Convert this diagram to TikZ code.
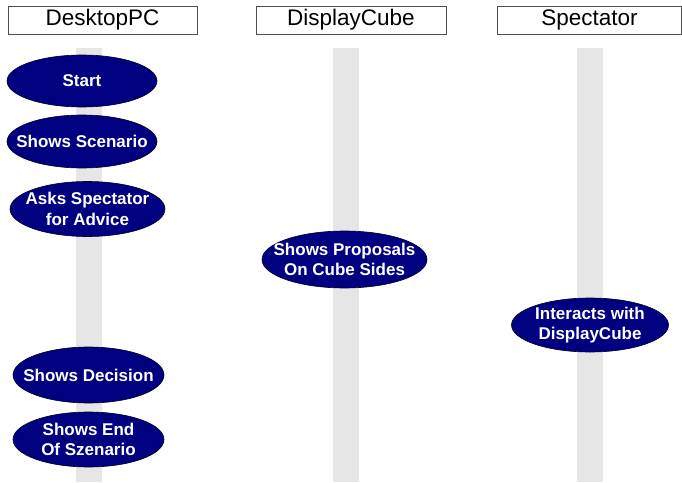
\documentclass[tikz,border=0pt]{standalone}
\usepackage{fontspec}
\setmainfont{Liberation Sans}
\usetikzlibrary{shapes.geometric}
\definecolor{lanegray}{HTML}{E6E6E6}
\definecolor{navyfill}{HTML}{000080}
\definecolor{boxline}{HTML}{505050}
\begin{document}
\begin{tikzpicture}[x=1pt,y=-1pt,
  header/.style={draw=boxline,line width=0.8pt,fill=white,inner sep=0pt,font=\fontsize{22.5}{26}\selectfont},
  lane/.style={fill=lanegray,draw=none},
  act/.style={ellipse,draw=black!70!navyfill,line width=0.6pt,fill=navyfill,inner sep=0pt},
  acttext/.style={text=white,inner sep=0pt,font=\bfseries\fontsize{17}{20.5}\selectfont,align=center}]
\useasboundingbox (0,0) rectangle (682,482);
\fill[white] (0,0) rectangle (682,482);
% lanes
\path[lane] (76,48) rectangle (102,482);
\path[lane] (333,48) rectangle (359,482);
\path[lane] (577,48) rectangle (603,482);
% headers
\node[header,minimum width=189pt,minimum height=28pt] (h1) at (102.5,20) {DesktopPC};
\node[header,minimum width=190pt,minimum height=28pt] (h2) at (351,20) {DisplayCube};
\node[header,minimum width=184pt,minimum height=28pt] (h3) at (589.5,20) {Spectator};
% activities
\node[act,minimum width=150pt,minimum height=52pt] (start) at (82,81) {};
\node[acttext] (startT) at (start) {Start};
\node[act,minimum width=150pt,minimum height=53pt] (scen) at (82,141.5) {};
\node[acttext] (scenT) at (scen) {Shows Scenario};
\node[act,minimum width=155pt,minimum height=55pt] (ask) at (87.5,209) {};
\node[acttext] (askT) at (ask) {Asks Spectator\\for Advice};
\node[act,minimum width=165pt,minimum height=57pt] (prop) at (344.5,259.5) {};
\node[acttext] (propT) at (prop) {Shows Proposals\\On Cube Sides};
\node[act,minimum width=157pt,minimum height=54pt] (inter) at (590,325) {};
\node[acttext] (interT) at (inter) {Interacts with\\DisplayCube};
\node[act,minimum width=151pt,minimum height=56pt] (dec) at (88.5,375) {};
\node[acttext] (decT) at (dec) {Shows Decision};
\node[act,minimum width=151pt,minimum height=55pt] (end) at (88.5,439.5) {};
\node[acttext] (endT) at (end) {Shows End\\Of Szenario};
\end{tikzpicture}
\end{document}
